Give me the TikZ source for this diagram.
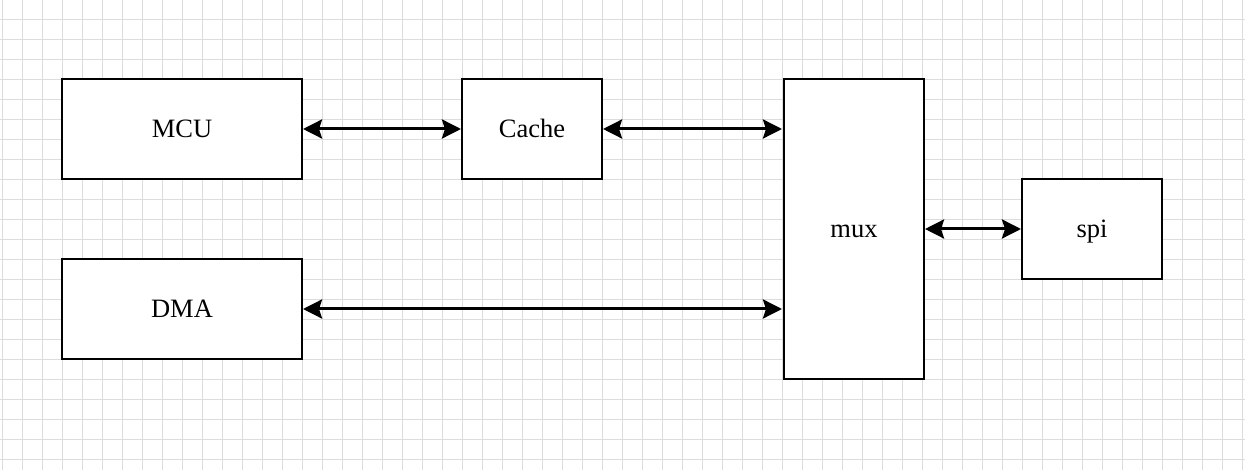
\documentclass[tikz,border=0pt]{standalone}
\usepackage{fontspec}
\setmainfont{Liberation Serif}
\usetikzlibrary{arrows.meta}
\definecolor{gridc}{HTML}{DCDCDC}
\tikzset{
  blk/.style={draw=black, line width=2pt, fill=white, inner sep=0pt, text height=18pt, text depth=0pt, font=\fontsize{26.5}{30}\selectfont},
  link/.style={line width=3pt, {Stealth[length=19pt,width=19pt,inset=3pt]}-{Stealth[length=19pt,width=19pt,inset=3pt]}},
  gridline/.style={draw=gridc, line width=0.9pt}
}
\begin{document}
\begin{tikzpicture}[x=1pt,y=-1pt]
\useasboundingbox (0,0) rectangle (1245,470);
\fill[white] (0,0) rectangle (1245,470);
\foreach \i in {0,...,62} { \draw[gridline] (2.3+20*\i,0) -- (2.3+20*\i,470); }
\foreach \j in {1,...,23} { \draw[gridline] (0,20*\j-0.5) -- (1245,20*\j-0.5); }
\node[blk, minimum width=240pt, minimum height=100pt] (mcu) at (182,129) {MCU};
\node[blk, minimum width=140pt, minimum height=100pt] (cache) at (532,129) {Cache};
\node[blk, minimum width=140pt, minimum height=300pt] (mux) at (854,229) {mux};
\node[blk, minimum width=140pt, minimum height=100pt] (spi) at (1092,229) {spi};
\node[blk, minimum width=240pt, minimum height=100pt] (dma) at (182,309) {DMA};
\coordinate (m1) at (782,129);
\coordinate (m2) at (782,309);
\draw[link] (mcu.east) -- (cache.west);
\draw[link] (cache.east) -- (m1);
\draw[link] (dma.east) -- (m2);
\draw[link] (mux.east) -- (spi.west);
\end{tikzpicture}
\end{document}
